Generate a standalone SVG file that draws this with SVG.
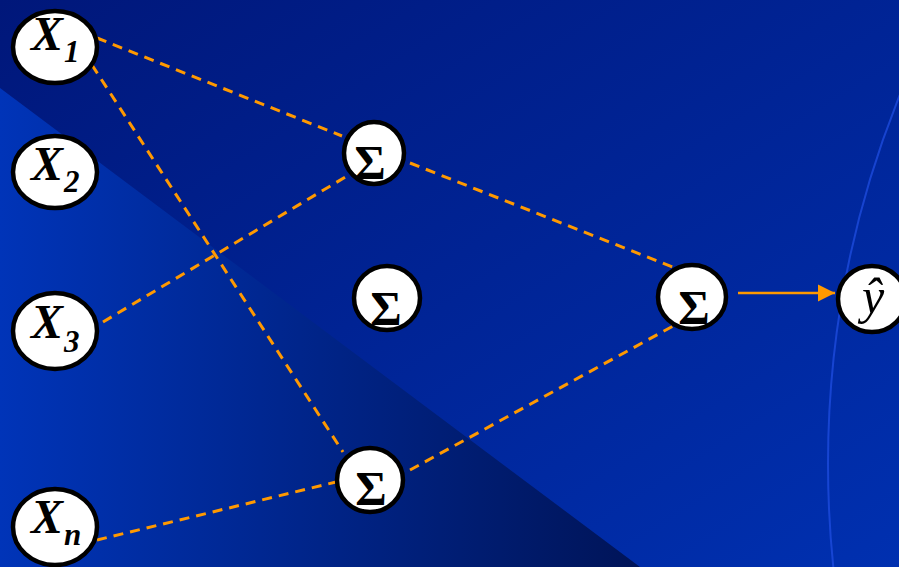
<svg xmlns="http://www.w3.org/2000/svg" width="899" height="567" viewBox="0 0 899 567">
<defs>
<linearGradient id="bg" x1="0" y1="0" x2="1" y2="1">
<stop offset="0" stop-color="#00177a"/>
<stop offset="1" stop-color="#0030b0"/>
</linearGradient>
<linearGradient id="tri" gradientUnits="userSpaceOnUse" x1="0" y1="0" x2="640" y2="0">
<stop offset="0" stop-color="#0034b8"/>
<stop offset="1" stop-color="#001458"/>
</linearGradient>
<marker id="arr" viewBox="0 0 10 10" refX="10" refY="5" markerWidth="7" markerHeight="7.5" markerUnits="strokeWidth" orient="auto">
<path d="M0,0 L10,5 L0,10 Z" fill="#ff9900"/>
</marker>
<style>
.n{fill:#fff;stroke:#000;stroke-width:4.5}
.d{stroke:#ff9900;stroke-width:3;stroke-dasharray:10 7;fill:none}
.x{font-family:"Liberation Serif",serif;font-weight:bold;font-style:italic;fill:#000}
.s{font-family:"Liberation Serif",serif;font-weight:bold;font-size:48px;fill:#000;text-anchor:middle}
</style>
</defs>
<rect width="899" height="567" fill="url(#bg)"/>
<polygon points="0,88 640,567 0,567" fill="url(#tri)"/>
<circle cx="1812" cy="464" r="984" fill="none" stroke="#1f4ee0" stroke-width="2" opacity="0.75"/>
<g id="connectors">
<line class="d" x1="97" y1="38" x2="342" y2="136"/>
<line class="d" x1="92" y1="65" x2="343" y2="452"/>
<line class="d" x1="103" y1="322" x2="347" y2="176"/>
<line class="d" x1="97" y1="540" x2="336" y2="482"/>
<line class="d" x1="410" y1="163" x2="675" y2="268"/>
<line class="d" x1="410" y1="470" x2="675" y2="325"/>
<line x1="738" y1="293" x2="835" y2="293" stroke="#ff9900" stroke-width="2.5" marker-end="url(#arr)"/>
</g>
<g id="x1">
<ellipse class="n" cx="55" cy="47" rx="42" ry="36"/>
<text class="x" x="31" y="50" font-size="48">X</text>
<text class="x" x="64" y="62" font-size="31">1</text>
</g>
<g id="x2">
<ellipse class="n" cx="55" cy="172" rx="42" ry="36"/>
<text class="x" x="31" y="180" font-size="48">X</text>
<text class="x" x="64" y="192" font-size="31">2</text>
</g>
<g id="x3">
<ellipse class="n" cx="55" cy="331" rx="42" ry="38"/>
<text class="x" x="31" y="338" font-size="48">X</text>
<text class="x" x="64" y="352" font-size="31">3</text>
</g>
<g id="xn">
<ellipse class="n" cx="55" cy="527" rx="42" ry="38"/>
<text class="x" x="31" y="533" font-size="48">X</text>
<text class="x" x="64" y="545" font-size="31">n</text>
</g>
<g id="s1">
<ellipse class="n" cx="374" cy="153" rx="30" ry="31"/>
<text class="s" x="370" y="179">Σ</text>
</g>
<g id="s2">
<ellipse class="n" cx="387" cy="298" rx="33" ry="32"/>
<text class="s" x="386" y="325">Σ</text>
</g>
<g id="s3">
<ellipse class="n" cx="370" cy="480" rx="33" ry="32"/>
<text class="s" x="371" y="505">Σ</text>
</g>
<g id="s4">
<ellipse class="n" cx="692" cy="297" rx="34" ry="32"/>
<text class="s" x="694" y="324">Σ</text>
</g>
<g id="yhat">
<ellipse class="n" cx="872" cy="299" rx="34" ry="33"/>
<text x="873" y="313" font-family="Liberation Serif, serif" font-style="italic" font-size="50" text-anchor="middle" fill="#000">ŷ</text>
</g>
</svg>
